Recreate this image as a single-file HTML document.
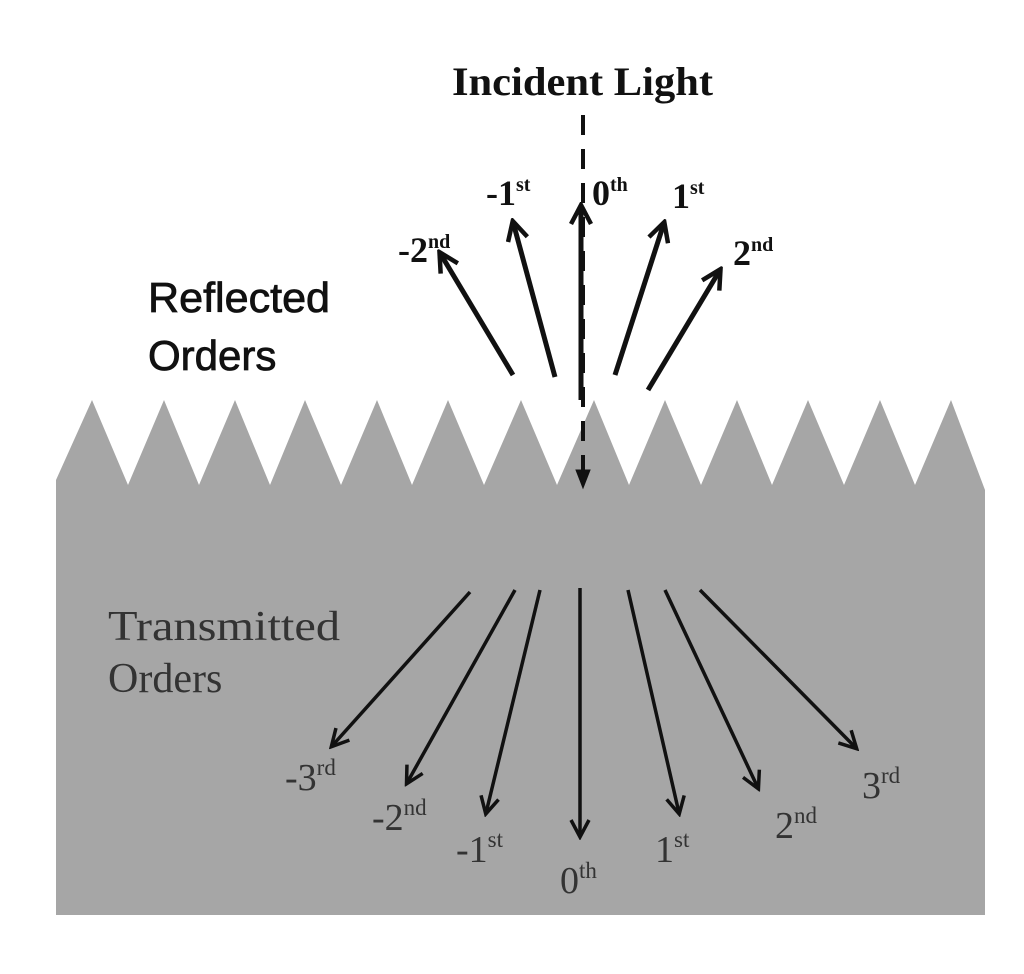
<!DOCTYPE html>
<html><head><meta charset="utf-8"><style>
html,body{margin:0;padding:0;background:#fff;}
svg{display:block}
</style></head><body>
<svg width="1024" height="974" viewBox="0 0 1024 974" xmlns="http://www.w3.org/2000/svg">
<defs>
<marker id="a" markerWidth="22" markerHeight="22" refX="18" refY="11" orient="auto" markerUnits="userSpaceOnUse" viewBox="0 0 22 22">
<path d="M2,2 L19,11 L2,20" fill="none" stroke="#111" stroke-width="3.5"/>
</marker>
<marker id="b" markerWidth="24" markerHeight="24" refX="20" refY="12" orient="auto" markerUnits="userSpaceOnUse" viewBox="0 0 24 24">
<path d="M2,2 L21,12 L2,22" fill="none" stroke="#111" stroke-width="4.5"/>
</marker>
</defs>
<polygon fill="#a6a6a6" points="56,915 56,480 92,400 128,485 164,400 199,485 235,400 270,485 305,400 341,485 377,400 412,485 448,400 484,485 521,400 557,485 594,400 629,485 665,400 701,485 737,400 772,485 808,400 844,485 880,400 915,485 951,400 985,490 985,915"/>
<g font-family="Liberation Serif, serif" fill="#111">
<text x="452" y="95" font-size="40" font-weight="bold" textLength="261" lengthAdjust="spacingAndGlyphs">Incident Light</text>
<text x="148" y="312" font-size="42" font-family="Liberation Sans, sans-serif" stroke="#111" stroke-width="0.8" textLength="182" lengthAdjust="spacingAndGlyphs">Reflected</text>
<text x="148" y="370" font-size="42" font-family="Liberation Sans, sans-serif" stroke="#111" stroke-width="0.8">Orders</text>
<text x="398" y="262" font-size="36" font-weight="bold">-2<tspan font-size="20" dy="-14">nd</tspan></text>
<text x="486" y="205" font-size="36" font-weight="bold">-1<tspan font-size="20" dy="-14">st</tspan></text>
<text x="592" y="205" font-size="36" font-weight="bold">0<tspan font-size="20" dy="-14">th</tspan></text>
<text x="672" y="208" font-size="36" font-weight="bold">1<tspan font-size="20" dy="-14">st</tspan></text>
<text x="733" y="265" font-size="36" font-weight="bold">2<tspan font-size="20" dy="-14">nd</tspan></text>
</g>
<g stroke="#111" stroke-width="4" fill="none">
<line x1="583" y1="115" x2="583" y2="470" stroke-dasharray="20,14"/>
<path d="M576,470 L583,488 L590,470 Z" fill="#111" stroke-width="1"/>
<line x1="581" y1="400" x2="581" y2="206" marker-end="url(#b)" stroke-width="5"/>
<line x1="513" y1="375" x2="440" y2="253" marker-end="url(#b)" stroke-width="5"/>
<line x1="555" y1="377" x2="513" y2="222" marker-end="url(#b)" stroke-width="5"/>
<line x1="615" y1="375" x2="664" y2="223" marker-end="url(#b)" stroke-width="5"/>
<line x1="648" y1="390" x2="720" y2="270" marker-end="url(#b)" stroke-width="5"/>
</g>
<g stroke="#111" stroke-width="3.5" fill="none">
<line x1="470" y1="592" x2="332" y2="746" marker-end="url(#a)"/>
<line x1="515" y1="590" x2="407" y2="783" marker-end="url(#a)"/>
<line x1="540" y1="590" x2="486" y2="813" marker-end="url(#a)"/>
<line x1="580" y1="588" x2="580" y2="836" marker-end="url(#a)"/>
<line x1="628" y1="590" x2="679" y2="813" marker-end="url(#a)"/>
<line x1="665" y1="590" x2="758" y2="788" marker-end="url(#a)"/>
<line x1="700" y1="590" x2="856" y2="748" marker-end="url(#a)"/>
</g>
<g font-family="Liberation Serif, serif" fill="#333" font-size="38">
<text x="108" y="640" font-size="42" textLength="232" lengthAdjust="spacingAndGlyphs">Transmitted</text>
<text x="108" y="692" font-size="42">Orders</text>
<text x="285" y="790">-3<tspan font-size="23" dy="-15">rd</tspan></text>
<text x="372" y="830">-2<tspan font-size="23" dy="-15">nd</tspan></text>
<text x="456" y="862">-1<tspan font-size="23" dy="-15">st</tspan></text>
<text x="560" y="893">0<tspan font-size="23" dy="-15">th</tspan></text>
<text x="655" y="862">1<tspan font-size="23" dy="-15">st</tspan></text>
<text x="775" y="838">2<tspan font-size="23" dy="-15">nd</tspan></text>
<text x="862" y="798">3<tspan font-size="23" dy="-15">rd</tspan></text>
</g>
</svg>
</body></html>
